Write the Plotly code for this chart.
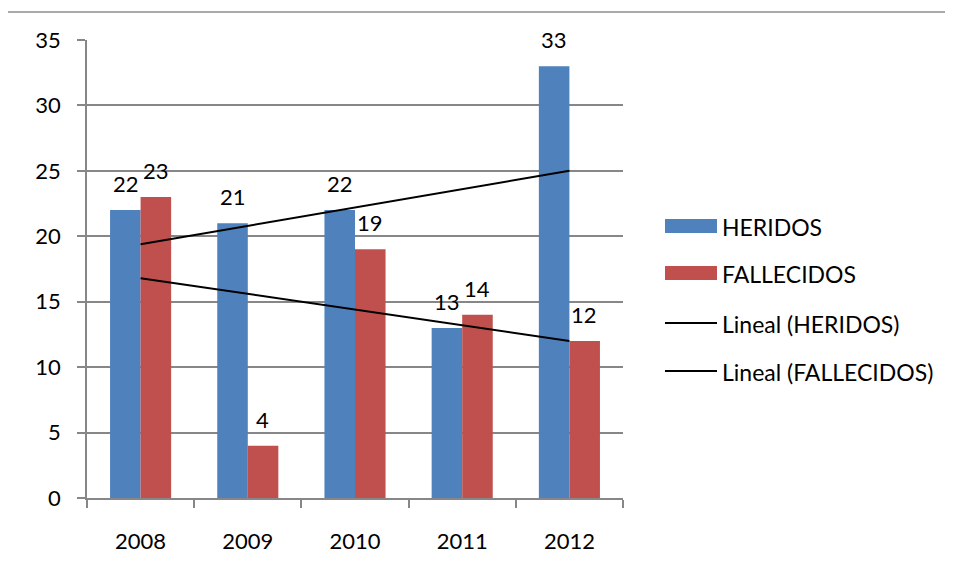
import numpy as np
import plotly.graph_objects as go

years = ["2008", "2009", "2010", "2011", "2012"]
heridos = [22, 21, 22, 13, 33]
fallecidos = [23, 4, 19, 14, 12]
y_ticks = [0, 5, 10, 15, 20, 25, 30, 35]

BLUE = "#4F81BD"
RED = "#C0504D"
GRID = "#878787"
FONT = "Lato"
FS = 22

idx = np.arange(len(years))
trend_h = np.polyval(np.polyfit(idx, heridos, 1), idx)
trend_f = np.polyval(np.polyfit(idx, fallecidos, 1), idx)

fig = go.Figure()
fig.add_trace(go.Bar(x=years, y=heridos, name="HERIDOS", marker=dict(color=BLUE, line=dict(width=0))))
fig.add_trace(go.Bar(x=years, y=fallecidos, name="FALLECIDOS", marker=dict(color=RED, line=dict(width=0))))
fig.add_trace(go.Scatter(x=years, y=trend_h, mode="lines", name="Lineal (HERIDOS)", line=dict(color="black", width=2)))
fig.add_trace(go.Scatter(x=years, y=trend_f, mode="lines", name="Lineal (FALLECIDOS)", line=dict(color="black", width=2)))

# data labels above bars (category index positions)
for i, (h, f) in enumerate(zip(heridos, fallecidos)):
    fig.add_annotation(x=i, y=h, text=str(h), showarrow=False, xref="x", yref="y",
                       xshift=-15, yshift=11, yanchor="bottom", font=dict(family=FONT, size=FS, color="black"))
    fig.add_annotation(x=i, y=f, text=str(f), showarrow=False, xref="x", yref="y",
                       xshift=15, yshift=11, yanchor="bottom", font=dict(family=FONT, size=FS, color="black"))

# page body has an 8px margin: target pixel positions are shifted by -8
OFF = 8
L, R, T, B = 87 - OFF, 623 - OFF, 40 - OFF, 498 - OFF
W, H = 953 - OFF, 581 - OFF
def px(x):
    return (x - OFF - L) / (R - L)
def py(y):
    return (B - (y - OFF)) / (B - T)

# chart border (top and left visible)
fig.add_shape(type="line", xref="paper", yref="paper", x0=px(7), x1=px(7), y0=py(12), y1=py(700),
              line=dict(color="#8C8C8C", width=1.5))
fig.add_shape(type="line", xref="paper", yref="paper", x0=px(7), x1=px(1500), y0=py(12), y1=py(12),
              line=dict(color="#8C8C8C", width=1.5))

# manual legend
legend_items = [("rect", BLUE, "HERIDOS", 226), ("rect", RED, "FALLECIDOS", 273),
                ("line", "black", "Lineal (HERIDOS)", 323), ("line", "black", "Lineal (FALLECIDOS)", 371)]
for kind, col, label, yc in legend_items:
    if kind == "rect":
        fig.add_shape(type="rect", xref="paper", yref="paper", x0=px(665), x1=px(717),
                      y0=py(yc + 7), y1=py(yc - 7), fillcolor=col, line=dict(width=0))
    else:
        fig.add_shape(type="line", xref="paper", yref="paper", x0=px(665), x1=px(717),
                      y0=py(yc), y1=py(yc), line=dict(color=col, width=2))
    fig.add_annotation(xref="paper", yref="paper", x=px(720), y=py(yc + 1), text=label, showarrow=False,
                       xanchor="left", yanchor="middle", font=dict(family=FONT, size=FS + 1, color="black"))

fig.update_layout(
    width=W, height=H,
    margin=dict(l=L, r=W - R, t=T, b=H - B),
    plot_bgcolor="white", paper_bgcolor="white",
    barmode="group", bargap=0.43, bargroupgap=0,
    showlegend=False,
    font=dict(family=FONT, size=FS, color="black"),
)
fig.update_xaxes(type="category", range=[-0.5, len(years) - 0.5], showline=True, linecolor=GRID, linewidth=1.5,
                 ticks="outside", tickson="boundaries", ticklen=8, tickcolor=GRID, tickwidth=1.5,
                 showgrid=False, ticklabelstandoff=23, tickangle=0,
                 tickfont=dict(family=FONT, size=FS, color="black"))
fig.update_yaxes(range=[0, 35], tickvals=y_ticks, showline=True, linecolor=GRID, linewidth=1.5,
                 ticks="outside", ticklen=8, tickcolor=GRID, tickwidth=1.5,
                 showgrid=True, gridcolor=GRID, gridwidth=1.5, zeroline=False,
                 ticklabelstandoff=12, tickfont=dict(family=FONT, size=FS, color="black"))

fig.write_html("out.html")
